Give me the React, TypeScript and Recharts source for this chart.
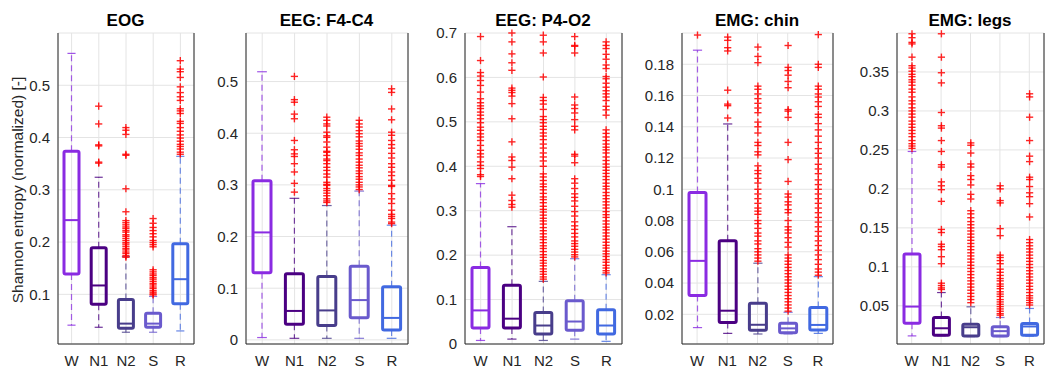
import React from 'react';
import { ComposedChart, Bar, XAxis, YAxis, CartesianGrid } from 'recharts';

const stages = ['W', 'N1', 'N2', 'S', 'R'];
const stageColors = ['#8a2be2', '#4b0082', '#483d8b', '#6a5acd', '#4169e1'];

// EOG
const eogTicks = [0.1, 0.2, 0.3, 0.4, 0.5];
const eogLow = [0.041, 0.037, 0.0275, 0.0275, 0.03];
const eogQ1 = [0.139, 0.081, 0.035, 0.037, 0.082];
const eogMedian = [0.242, 0.117, 0.044, 0.044, 0.129];
const eogQ3 = [0.374, 0.189, 0.09, 0.064, 0.197];
const eogHigh = [0.561, 0.324, 0.172, 0.096, 0.364];
const eogOutliers = [
  [],
  [0.46, 0.426, 0.386, 0.384, 0.353, 0.351],
  [0.419, 0.414, 0.406, 0.368, 0.366, 0.302, 0.258, 0.241, 0.237, 0.233, 0.229, 0.226, 0.222, 0.219, 0.214, 0.211,
    0.207, 0.203, 0.199, 0.196, 0.192, 0.188, 0.185, 0.181, 0.178, 0.174, 0.171],
  [0.245, 0.236, 0.228, 0.222, 0.216, 0.21, 0.203, 0.199, 0.195, 0.191, 0.147, 0.143, 0.139, 0.136, 0.132, 0.129,
    0.125, 0.121, 0.118, 0.114, 0.111, 0.107, 0.104, 0.101, 0.099],
  [0.547, 0.531, 0.526, 0.515, 0.497, 0.486, 0.478, 0.471, 0.455, 0.451, 0.446, 0.431, 0.427, 0.419, 0.412, 0.405,
    0.399, 0.393, 0.387, 0.383, 0.378, 0.372, 0.368],
];

// EEG: F4-C4
const f4Ticks = [0, 0.1, 0.2, 0.3, 0.4, 0.5];
const f4Low = [0.0045, 0.003, 0.003, 0.003, 0.003];
const f4Q1 = [0.13, 0.03, 0.028, 0.043, 0.019];
const f4Median = [0.208, 0.056, 0.057, 0.077, 0.0425];
const f4Q3 = [0.308, 0.128, 0.1225, 0.1425, 0.103];
const f4High = [0.519, 0.274, 0.26, 0.288, 0.222];
const f4Outliers = [
  [],
  [0.51, 0.465, 0.46, 0.437, 0.428, 0.386, 0.368, 0.36, 0.355, 0.341, 0.325, 0.303, 0.286],
  [0.431, 0.425, 0.418, 0.414, 0.402, 0.395, 0.392, 0.383, 0.373, 0.365, 0.363, 0.357, 0.35, 0.347, 0.341, 0.334,
    0.328, 0.321, 0.315, 0.305, 0.301, 0.299, 0.293, 0.289, 0.284, 0.279, 0.273, 0.269, 0.266],
  [0.425, 0.418, 0.412, 0.405, 0.399, 0.393, 0.385, 0.38, 0.375, 0.369, 0.362, 0.357, 0.35, 0.344, 0.338, 0.333,
    0.327, 0.322, 0.316, 0.311, 0.305, 0.3, 0.296, 0.291],
  [0.486, 0.479, 0.447, 0.426, 0.402, 0.396, 0.386, 0.378, 0.371, 0.361, 0.352, 0.341, 0.334, 0.325, 0.318, 0.309,
    0.299, 0.297, 0.283, 0.273, 0.264, 0.251, 0.243, 0.239, 0.235, 0.228, 0.225],
];

// EEG: P4-O2
const p4Ticks = [0, 0.1, 0.2, 0.3, 0.4, 0.5, 0.6, 0.7];
const p4Low = [0.008, 0.011, 0.008, 0.011, 0.006];
const p4Q1 = [0.036, 0.036, 0.0227, 0.031, 0.0227];
const p4Median = [0.0756, 0.057, 0.0416, 0.0506, 0.0416];
const p4Q3 = [0.172, 0.132, 0.071, 0.0975, 0.077];
const p4High = [0.361, 0.264, 0.141, 0.192, 0.156];
const p4Outliers = [
  [0.692, 0.638, 0.611, 0.603, 0.593, 0.582, 0.567, 0.552, 0.543, 0.536, 0.53, 0.522, 0.515, 0.507, 0.498, 0.488,
    0.481, 0.473, 0.466, 0.458, 0.447, 0.436, 0.428, 0.421, 0.41, 0.402, 0.395, 0.381, 0.377],
  [0.7, 0.68, 0.653, 0.633, 0.616, 0.576, 0.571, 0.566, 0.558, 0.541, 0.507, 0.455, 0.421, 0.413, 0.398, 0.372,
    0.335, 0.323, 0.314, 0.308],
  [0.695, 0.68, 0.655, 0.601, 0.555, 0.548, 0.54, 0.528, 0.512, 0.505, 0.498, 0.49, 0.483, 0.475, 0.468, 0.46,
    0.45, 0.441, 0.43, 0.421, 0.412, 0.4, 0.383, 0.376, 0.368, 0.36, 0.354, 0.347, 0.339, 0.331, 0.325, 0.318,
    0.31, 0.303, 0.297, 0.29, 0.283, 0.277, 0.27, 0.262, 0.255, 0.248, 0.241, 0.235, 0.228, 0.221, 0.215, 0.208,
    0.201, 0.195, 0.188, 0.182, 0.176, 0.169, 0.163, 0.157, 0.151, 0.146],
  [0.692, 0.672, 0.67, 0.655, 0.556, 0.538, 0.53, 0.52, 0.505, 0.49, 0.482, 0.427, 0.423, 0.408, 0.372, 0.362,
    0.35, 0.338, 0.33, 0.322, 0.31, 0.298, 0.288, 0.275, 0.266, 0.258, 0.249, 0.241, 0.232, 0.226, 0.22, 0.213,
    0.207, 0.201, 0.196],
  [0.68, 0.672, 0.665, 0.652, 0.641, 0.628, 0.62, 0.602, 0.597, 0.587, 0.578, 0.57, 0.563, 0.556, 0.548, 0.535,
    0.527, 0.515, 0.482, 0.474, 0.466, 0.458, 0.45, 0.443, 0.437, 0.43, 0.421, 0.413, 0.405, 0.398, 0.391, 0.384,
    0.377, 0.37, 0.362, 0.355, 0.349, 0.341, 0.334, 0.327, 0.32, 0.313, 0.306, 0.298, 0.291, 0.285, 0.277, 0.27,
    0.263, 0.257, 0.25, 0.243, 0.236, 0.229, 0.222, 0.216, 0.209, 0.203, 0.197, 0.19, 0.184, 0.177, 0.171, 0.165,
    0.16],
];

// EMG: chin
const chinTicks = [0.02, 0.04, 0.06, 0.08, 0.1, 0.12, 0.14, 0.16, 0.18];
const chinLow = [0.0115, 0.0078, 0.0074, 0.0075, 0.0078];
const chinQ1 = [0.032, 0.0147, 0.0098, 0.0082, 0.01];
const chinMedian = [0.0542, 0.0223, 0.0133, 0.011, 0.0132];
const chinQ3 = [0.098, 0.067, 0.027, 0.0142, 0.0243];
const chinHigh = [0.189, 0.1418, 0.0527, 0.0213, 0.0441];
const chinOutliers = [
  [0.1987],
  [0.1974, 0.1953, 0.1906, 0.1885, 0.1634, 0.1545, 0.1535, 0.1456],
  [0.191, 0.185, 0.181, 0.166, 0.164, 0.161, 0.158, 0.155, 0.152, 0.149, 0.143, 0.14, 0.136, 0.13, 0.128, 0.124,
    0.122, 0.115, 0.112, 0.11, 0.107, 0.104, 0.1, 0.097, 0.094, 0.091, 0.088, 0.086, 0.084, 0.08, 0.078, 0.075,
    0.072, 0.07, 0.067, 0.065, 0.062, 0.06, 0.058, 0.056, 0.054],
  [0.192, 0.178, 0.176, 0.173, 0.169, 0.165, 0.151, 0.15, 0.146, 0.13, 0.119, 0.105, 0.097, 0.095, 0.092, 0.09,
    0.087, 0.085, 0.08, 0.076, 0.074, 0.072, 0.069, 0.066, 0.063, 0.058, 0.056, 0.054, 0.052, 0.05, 0.048, 0.046,
    0.044, 0.042, 0.04, 0.038, 0.036, 0.034, 0.032, 0.03, 0.028, 0.026, 0.024, 0.022],
  [0.199, 0.18, 0.178, 0.166, 0.164, 0.161, 0.159, 0.156, 0.153, 0.148, 0.146, 0.142, 0.138, 0.134, 0.13, 0.126,
    0.123, 0.12, 0.116, 0.113, 0.11, 0.106, 0.103, 0.1, 0.097, 0.094, 0.091, 0.088, 0.085, 0.082, 0.079, 0.076,
    0.073, 0.07, 0.067, 0.064, 0.061, 0.058, 0.055, 0.052, 0.049, 0.047, 0.045],
];

// EMG: legs
const legsTicks = [0.05, 0.1, 0.15, 0.2, 0.25, 0.3, 0.35];
const legsLow = [0.0114, 0.0115, 0.0105, 0.0105, 0.011];
const legsQ1 = [0.0277, 0.0122, 0.0114, 0.0114, 0.0122];
const legsMedian = [0.049, 0.0212, 0.0225, 0.0175, 0.0235];
const legsQ3 = [0.1165, 0.035, 0.0264, 0.023, 0.0273];
const legsHigh = [0.248, 0.067, 0.0487, 0.035, 0.0466];
const legsOutliers = [
  [0.399, 0.394, 0.388, 0.386, 0.369, 0.358, 0.355, 0.351, 0.347, 0.344, 0.34, 0.337, 0.333, 0.328, 0.324, 0.318,
    0.313, 0.309, 0.304, 0.3, 0.296, 0.292, 0.287, 0.283, 0.279, 0.275, 0.271, 0.267, 0.262, 0.258, 0.255, 0.252],
  [0.399, 0.369, 0.349, 0.336, 0.298, 0.281, 0.278, 0.262, 0.248, 0.231, 0.228, 0.209, 0.204, 0.199, 0.184, 0.148,
    0.144, 0.129, 0.126, 0.122, 0.113, 0.104, 0.079, 0.076, 0.073, 0.071],
  [0.259, 0.256, 0.246, 0.232, 0.228, 0.217, 0.212, 0.205, 0.193, 0.187, 0.172, 0.168, 0.163, 0.158, 0.154, 0.15,
    0.146, 0.142, 0.138, 0.134, 0.13, 0.126, 0.122, 0.118, 0.114, 0.11, 0.106, 0.102, 0.098, 0.094, 0.09, 0.086,
    0.082, 0.078, 0.074, 0.07, 0.066, 0.062, 0.058, 0.054],
  [0.204, 0.2, 0.185, 0.182, 0.149, 0.14, 0.115, 0.112, 0.108, 0.104, 0.097, 0.093, 0.089, 0.085, 0.082, 0.078,
    0.075, 0.072, 0.068, 0.065, 0.062, 0.058, 0.055, 0.052, 0.049, 0.046, 0.043, 0.04, 0.038],
  [0.322, 0.318, 0.292, 0.262, 0.242, 0.235, 0.215, 0.212, 0.203, 0.195, 0.19, 0.181, 0.164, 0.135, 0.131, 0.127,
    0.123, 0.119, 0.115, 0.111, 0.107, 0.103, 0.099, 0.095, 0.091, 0.087, 0.083, 0.079, 0.075, 0.071, 0.067, 0.063,
    0.06, 0.057, 0.054, 0.051],
];

const FONT = '"Liberation Sans", Arial, Helvetica, sans-serif';
const INK = '#262626';

function buildRows(low: number[], q1: number[], median: number[], q3: number[], high: number[], outliers: number[][]) {
  return stages.map((stage, i) => ({
    stage,
    iqr: [q1[i], q3[i]],
    low: low[i],
    q1: q1[i],
    median: median[i],
    q3: q3[i],
    high: high[i],
    outliers: outliers[i],
    color: stageColors[i],
  }));
}

// box, whiskers and outliers, positioned from the bar the library scaled for [q1, q3]
function BoxShape(props: any) {
  const { x, y, width, height, payload } = props;
  const { q1, q3, low, high, median, outliers, color } = payload;
  const k = height / (q3 - q1);
  const py = (v: number) => y + (q3 - v) * k;
  const cx = x + width / 2;
  const cap = width * 0.27;
  return (
    <g>
      <line x1={cx} x2={cx} y1={py(q3)} y2={py(high)} stroke={color} strokeWidth={1.2} strokeDasharray="6 4" opacity={0.75} />
      <line x1={cx} x2={cx} y1={py(q1)} y2={py(low)} stroke={color} strokeWidth={1.2} strokeDasharray="6 4" opacity={0.75} />
      <line x1={cx - cap} x2={cx + cap} y1={py(high)} y2={py(high)} stroke={color} strokeWidth={1.2} opacity={0.8} />
      <line x1={cx - cap} x2={cx + cap} y1={py(low)} y2={py(low)} stroke={color} strokeWidth={1.2} opacity={0.8} />
      <rect x={x} y={py(q3)} width={width} height={py(q1) - py(q3)} fill="none" stroke={color} strokeWidth={3} rx={1.5} />
      <line x1={x} x2={x + width} y1={py(median)} y2={py(median)} stroke={color} strokeWidth={2} />
      {outliers.map((v: number, j: number) => {
        const oy = py(v);
        return (
          <g key={j} stroke="#ff0000" strokeWidth={1.4} opacity={0.85}>
            <line x1={cx - 3.6} x2={cx + 3.6} y1={oy} y2={oy} />
            <line x1={cx} x2={cx} y1={oy - 3.6} y2={oy + 3.6} />
          </g>
        );
      })}
    </g>
  );
}

interface PanelProps {
  title: string;
  plotLeft: number;
  plotWidth: number;
  domain: [number, number];
  ticks: number[];
  rows: any[];
}

function Panel({ title, plotLeft, plotWidth, domain, ticks, rows }: PanelProps) {
  const axisW = 50;
  const chartW = axisW + plotWidth + 2;
  const tickStyle = { fill: INK, fontSize: 15, fontFamily: FONT };
  return (
    <div style={{ position: 'absolute', left: plotLeft - axisW, top: 0, width: chartW, height: 372 }}>
      <div
        style={{
          position: 'absolute',
          left: axisW,
          width: plotWidth,
          top: 11,
          lineHeight: '20px',
          textAlign: 'center',
          fontFamily: FONT,
          fontWeight: 'bold',
          fontSize: 17,
          color: '#000',
        }}
      >
        {title}
      </div>
      <ComposedChart
        width={chartW}
        height={372}
        data={rows}
        margin={{ top: 33, right: 1, bottom: 0, left: 0 }}
        barSize={Math.round((plotWidth / 5) * 0.56)}
      >
        <CartesianGrid stroke="#e4e4e4" />
        <XAxis
          dataKey="stage"
          height={28}
          tickLine={false}
          tickSize={0}
          tickMargin={11}
          axisLine={{ stroke: INK }}
          tick={tickStyle}
          interval={0}
        />
        <XAxis xAxisId="top" dataKey="stage" orientation="top" height={0} tick={false} tickLine={false} axisLine={{ stroke: INK }} />
        <YAxis
          width={axisW}
          type="number"
          domain={domain}
          ticks={ticks}
          interval={0}
          tickLine={false}
          tickSize={0}
          tickMargin={8}
          axisLine={{ stroke: INK }}
          tick={tickStyle}
        />
        <YAxis
          yAxisId="right"
          orientation="right"
          width={1}
          type="number"
          domain={domain}
          ticks={ticks}
          interval={0}
          mirror
          tick={false}
          tickSize={4}
          tickLine={{ stroke: INK }}
          axisLine={{ stroke: INK }}
        />
        <Bar dataKey="iqr" fill="none" shape={BoxShape} isAnimationActive={false} />
      </ComposedChart>
    </div>
  );
}

export default function App() {
  return (
    <div style={{ position: 'absolute', left: 0, top: 0, width: 1048, height: 372, background: '#fff', overflow: 'hidden' }}>
      <div
        style={{
          position: 'absolute',
          left: 18 - 150,
          top: 190 - 10,
          width: 300,
          height: 20,
          lineHeight: '20px',
          textAlign: 'center',
          transform: 'rotate(-90deg)',
          fontFamily: FONT,
          fontSize: 15.5,
          color: INK,
        }}
      >
        Shannon entropy (normalized) [-]
      </div>
      <Panel
        title="EOG"
        plotLeft={58}
        plotWidth={135}
        domain={[0.005, 0.6]}
        ticks={eogTicks}
        rows={buildRows(eogLow, eogQ1, eogMedian, eogQ3, eogHigh, eogOutliers)}
      />
      <Panel
        title="EEG: F4-C4"
        plotLeft={246}
        plotWidth={161}
        domain={[-0.008, 0.594]}
        ticks={f4Ticks}
        rows={buildRows(f4Low, f4Q1, f4Median, f4Q3, f4High, f4Outliers)}
      />
      <Panel
        title="EEG: P4-O2"
        plotLeft={465}
        plotWidth={156}
        domain={[0, 0.7]}
        ticks={p4Ticks}
        rows={buildRows(p4Low, p4Q1, p4Median, p4Q3, p4High, p4Outliers)}
      />
      <Panel
        title="EMG: chin"
        plotLeft={682}
        plotWidth={150}
        domain={[0.001, 0.2]}
        ticks={chinTicks}
        rows={buildRows(chinLow, chinQ1, chinMedian, chinQ3, chinHigh, chinOutliers)}
      />
      <Panel
        title="EMG: legs"
        plotLeft={897}
        plotWidth={146}
        domain={[0.001, 0.4]}
        ticks={legsTicks}
        rows={buildRows(legsLow, legsQ1, legsMedian, legsQ3, legsHigh, legsOutliers)}
      />
    </div>
  );
}
